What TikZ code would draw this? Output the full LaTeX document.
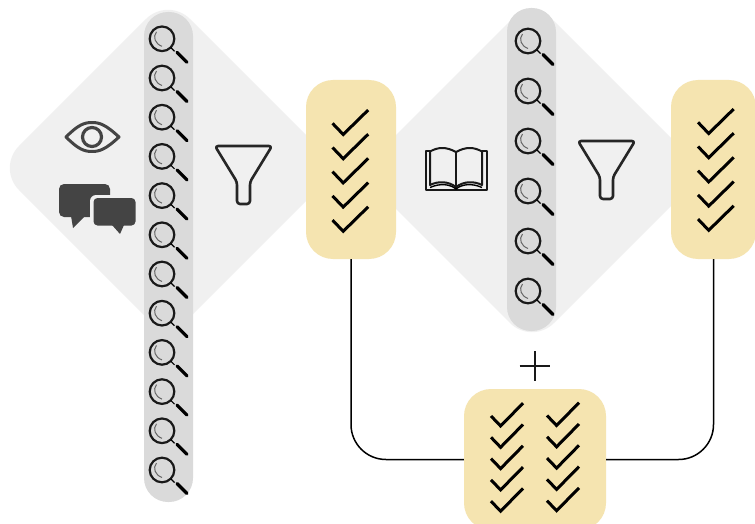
\documentclass[tikz,border=0pt]{standalone}
\begin{document}
\begin{tikzpicture}[x=1pt,y=-1pt,
  diamondbg/.style={fill=diamondgray,rounded corners=31pt},
  barbox/.style={fill=bargray,draw=none,rounded corners=24pt,minimum width=49pt,inner sep=0pt},
  yellowbox/.style={fill=boxyellow,draw=none,inner sep=0pt},
  link/.style={draw=black,line width=1.5pt,rounded corners=35pt},
  ink/.style={draw=black!90,line width=2pt,line join=round,line cap=round},
  lens/.pic={
    \draw[black!90,line width=2.2pt] (0,0) circle (12.3);
    \draw[black!60,line width=1pt] (-5.5,-7) .. controls (-9.5,-2) and (-7,5) .. (0,7.5);
    \draw[black,line width=1.2pt] (8.8,8.8) -- (12.5,12.5);
    \draw[black,line width=3.2pt,line cap=round] (15,13.5) -- (25,23.5);
  },
  bigtick/.pic={\draw[black,line width=3pt,line cap=butt,line join=miter] (0,0) -- (10.7,11.2) -- (35.7,-13.3);},
  smalltick/.pic={\draw[black,line width=3pt,line cap=butt,line join=miter] (0,0) -- (9.6,10) -- (32,-12.8);},
  funnel/.pic={
    \draw[black!85,line width=2.6pt,line join=round,rounded corners=3pt]
      (0,0) -- (-28.5,0) -- (-6.5,36) -- (-6.5,58) -- (6.5,58) -- (6.5,36) -- (28.5,0) -- cycle;
  }]
\definecolor{diamondgray}{HTML}{F0F0F0}
\definecolor{bargray}{HTML}{DADADA}
\definecolor{boxyellow}{HTML}{F5E4B0}
\definecolor{icongray}{HTML}{444444}
\clip (0,0) rectangle (755,524);
\useasboundingbox (0,0) rectangle (755,524);
\fill[white] (0,0) rectangle (755,524);
% diamonds
\path[diamondbg] (168,-3) -- (339,168) -- (168,339) -- (-3,168) -- cycle;
\path[diamondbg] (532,-1) -- (705,172) -- (532,345) -- (359,172) -- cycle;
% bars
\node[barbox,minimum height=490pt] (lbar) at (168.5,257) {};
\node[barbox,minimum height=323pt] (rbar) at (531.5,169.5) {};
% yellow boxes
\node[yellowbox,rounded corners=27pt,minimum width=90pt,minimum height=179pt] (lbox) at (351,169.5) {};
\node[yellowbox,rounded corners=27pt,minimum width=85pt,minimum height=179pt] (rbox) at (713.5,169.5) {};
\node[yellowbox,rounded corners=27pt,minimum width=142pt,minimum height=141pt] (bbox) at (535,459.5) {};
% connectors
\draw[link] (lbox.south) |- (bbox.west);
\draw[link] (rbox.south) |- (bbox.east);
% plus
\draw[black!90,line width=1.6pt] (519.5,366) -- (550,366);
\draw[black!90,line width=1.6pt] (535,351) -- (535,381);
% magnifiers
\foreach \k in {0,...,11} \pic at (162,38.8+\k*39.2) {lens};
\foreach \k in {0,...,5} \pic at (528,41+\k*50) {lens};
% ticks
\foreach \k in {0,...,4} {
  \pic at (332.5,123.3+\k*24.2) {bigtick};
  \pic at (698,122.3+\k*24.2) {bigtick};
  \pic at (491,416+\k*21.3) {smalltick};
  \pic at (547,415.5+\k*21.3) {smalltick};
}
% funnels
\pic at (243.5,146) {funnel};
\pic at (606.5,141) {funnel};
% eye
\draw[icongray,line width=3pt,line join=round] (66,137) .. controls (78,125) and (84,122.5) .. (92,122.5) .. controls (100,122.5) and (106,125) .. (119,137) .. controls (106,149) and (100,151.5) .. (92,151.5) .. controls (84,151.5) and (78,149) .. (66,137) -- cycle;
\draw[icongray,line width=3.2pt] (92,137) circle (9.5);
% speech bubbles
\fill[icongray,rounded corners=5pt] (59,184) -- (110,184) -- (110,217) -- (59,217) -- cycle;
\fill[icongray] (71,216) -- (85,216) -- (73,228) -- cycle;
\fill[diamondgray,rounded corners=6pt] (90,195) -- (139,195) -- (139,228) -- (90,228) -- cycle;
\fill[icongray,rounded corners=4pt] (93.5,198) -- (135.5,198) -- (135.5,225.5) -- (93.5,225.5) -- cycle;
\fill[icongray] (112,225) -- (124,225) -- (120,234) -- cycle;
% book
\draw[ink] (456,152) .. controls (446,146.5) and (438,147) .. (430,151.5) -- (430,185) .. controls (438,181) and (448,181) .. (456,187);
\draw[ink] (456,152) .. controls (466,146.5) and (474,147) .. (482,151.5) -- (482,185) .. controls (474,181) and (464,181) .. (456,187);
\draw[ink] (456,152) -- (456,187);
\draw[ink] (430,151) -- (426,151) -- (426,190) -- (486.5,190) -- (486.5,151) -- (482,151);
\draw[black,line width=1.4pt] (430,187.5) .. controls (440,183) and (450,184) .. (456,189) .. controls (462,184) and (472,183) .. (482,187.5);
\end{tikzpicture}
\end{document}
